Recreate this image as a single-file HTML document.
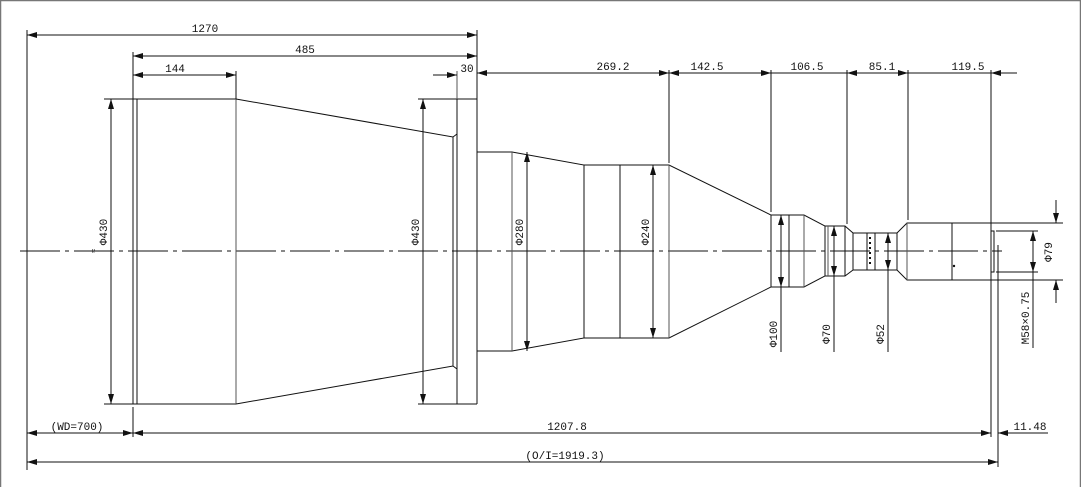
<!DOCTYPE html>
<html><head><meta charset="utf-8"><style>
html,body{margin:0;padding:0;background:#fff}
svg{display:block}
text{font-family:"Liberation Mono","DejaVu Sans Mono",monospace;font-size:11px;fill:#111}
</style></head><body>
<svg width="1081" height="487" viewBox="0 0 1081 487" xmlns="http://www.w3.org/2000/svg">
<defs>
<marker id="a" viewBox="0 0 10 6" refX="10" refY="3" markerWidth="10" markerHeight="6" markerUnits="userSpaceOnUse" orient="auto-start-reverse"><path d="M0,0 L10,3 L0,6z" fill="#111"/></marker>
</defs>
<rect x="0.5" y="0.5" width="1080" height="490" fill="none" stroke="#777" stroke-width="1.5"/>
<g stroke="#111" stroke-width="1" fill="none">
<!-- centre line -->
<line x1="20" y1="251" x2="1002" y2="251" stroke-dasharray="40,5,4,5"/>
<!-- left extension -->
<line x1="27" y1="30" x2="27" y2="470"/>
<!-- left body -->
<line x1="104" y1="99" x2="236" y2="99"/>
<line x1="104" y1="404" x2="236" y2="404"/>
<rect x="133" y="99" width="4" height="305"/>
<line x1="236" y1="99" x2="236" y2="404" stroke="#555"/>
<polyline points="236,99 453,137 457,134"/>
<polyline points="236,404 453,366 457,369"/>
<line x1="453" y1="137" x2="453" y2="366"/>
<line x1="418" y1="99" x2="477" y2="99"/>
<line x1="418" y1="404" x2="477" y2="404"/>
<line x1="457" y1="99" x2="457" y2="404"/>
<line x1="477" y1="99" x2="477" y2="404"/>
<!-- 280 section -->
<polyline points="477,152 512,152 584,165 584,338 512,351 477,351"/>
<line x1="512" y1="152" x2="512" y2="351" stroke="#555"/>
<line x1="620" y1="165" x2="620" y2="338"/>
<polyline points="584,165 669,165 771,215 771,287 669,338 584,338"/>
<line x1="669" y1="165" x2="669" y2="338" stroke="#555"/>
<!-- small sections -->
<polyline points="771,215 804,215 825,226 825,276 804,287 771,287"/>
<line x1="789" y1="215" x2="789" y2="287"/>
<line x1="804" y1="215" x2="804" y2="287" stroke="#555"/>
<polyline points="825,226 845,226 853,233 853,270 845,276 825,276"/>
<line x1="828" y1="226" x2="828" y2="276" stroke="#555"/>
<line x1="845" y1="226" x2="845" y2="276"/>
<polyline points="853,233 897,233 907,223 991,223 991,280 907,280 897,270 853,270"/>
<line x1="867" y1="233" x2="867" y2="270"/>
<line x1="875" y1="233" x2="875" y2="270"/>
<line x1="897" y1="233" x2="897" y2="270"/>
<line x1="907" y1="223" x2="907" y2="280" stroke="#555"/>
<line x1="952" y1="223" x2="952" y2="280"/>
<rect x="991" y="231" width="3" height="41"/>
<!-- extension lines top -->
<line x1="133" y1="52" x2="133" y2="99"/>
<line x1="236" y1="71" x2="236" y2="99"/>
<line x1="457" y1="71" x2="457" y2="99" stroke="#555"/>
<line x1="477" y1="30" x2="477" y2="99"/>
<line x1="669" y1="70" x2="669" y2="163"/>
<line x1="771" y1="70" x2="771" y2="212"/>
<line x1="847" y1="70" x2="847" y2="224"/>
<line x1="908" y1="70" x2="908" y2="220"/>
<line x1="991" y1="70" x2="991" y2="437"/>
<line x1="998" y1="245" x2="998" y2="467"/>
<line x1="133" y1="407" x2="133" y2="437"/>
<!-- dims top -->
<line x1="27" y1="35" x2="477" y2="35" marker-start="url(#a)" marker-end="url(#a)"/>
<line x1="133" y1="56" x2="477" y2="56" marker-start="url(#a)" marker-end="url(#a)"/>
<line x1="133" y1="75" x2="236" y2="75" marker-start="url(#a)" marker-end="url(#a)"/>
<line x1="433" y1="75" x2="457" y2="75" marker-end="url(#a)"/>
<line x1="1017" y1="73" x2="477" y2="73" marker-end="url(#a)"/>
<line x1="477" y1="73" x2="669" y2="73" marker-end="url(#a)"/>
<line x1="669" y1="73" x2="771" y2="73" marker-start="url(#a)" marker-end="url(#a)"/>
<line x1="847" y1="73" x2="908" y2="73" marker-start="url(#a)" marker-end="url(#a)"/>
<line x1="991" y1="73" x2="1003" y2="73" marker-start="url(#a)"/>
<!-- diameter dims -->
<line x1="111" y1="99" x2="111" y2="404" marker-start="url(#a)" marker-end="url(#a)"/>
<line x1="423" y1="99" x2="423" y2="404" marker-start="url(#a)" marker-end="url(#a)"/>
<line x1="527" y1="152" x2="527" y2="351" marker-start="url(#a)" marker-end="url(#a)"/>
<line x1="653" y1="165" x2="653" y2="338" marker-start="url(#a)" marker-end="url(#a)"/>
<line x1="781" y1="215" x2="781" y2="287" marker-start="url(#a)" marker-end="url(#a)"/>
<line x1="781" y1="287" x2="781" y2="352"/>
<line x1="834" y1="226" x2="834" y2="276" marker-start="url(#a)" marker-end="url(#a)"/>
<line x1="834" y1="276" x2="834" y2="352"/>
<line x1="888" y1="233" x2="888" y2="270" marker-start="url(#a)" marker-end="url(#a)"/>
<line x1="888" y1="270" x2="888" y2="352"/>
<line x1="991" y1="223" x2="1063" y2="223"/>
<line x1="991" y1="280" x2="1063" y2="280"/>
<line x1="1056" y1="200" x2="1056" y2="223" marker-end="url(#a)"/>
<line x1="1056" y1="303" x2="1056" y2="280" marker-end="url(#a)"/>
<line x1="996" y1="231" x2="1038" y2="231"/>
<line x1="996" y1="272" x2="1038" y2="272"/>
<line x1="1033" y1="231" x2="1033" y2="272" marker-start="url(#a)" marker-end="url(#a)"/>
<line x1="1033" y1="272" x2="1033" y2="348"/>
<!-- bottom dims -->
<line x1="27" y1="433" x2="133" y2="433" marker-start="url(#a)" marker-end="url(#a)"/>
<line x1="133" y1="433" x2="991" y2="433" marker-start="url(#a)" marker-end="url(#a)"/>
<line x1="1048" y1="433" x2="998" y2="433" marker-end="url(#a)"/>
<line x1="27" y1="462" x2="998" y2="462" marker-start="url(#a)" marker-end="url(#a)"/>
</g>
<g fill="#111">
<circle cx="954" cy="266" r="1.2"/>
<rect x="869" y="237" width="2" height="2"/><rect x="869" y="242" width="2" height="2"/><rect x="869" y="247" width="2" height="2"/><rect x="869" y="252" width="2" height="2"/><rect x="869" y="257" width="2" height="2"/><rect x="869" y="262" width="2" height="2"/>
</g>
<g text-anchor="middle">
<text x="205" y="32">1270</text>
<text x="305" y="53">485</text>
<text x="175" y="72">144</text>
<text x="467" y="72">30</text>
<text x="613" y="70">269.2</text>
<text x="707" y="70">142.5</text>
<text x="807" y="70">106.5</text>
<text x="882" y="70">85.1</text>
<text x="968" y="70">119.5</text>
<text x="77" y="430">(WD=700)</text>
<text x="567" y="430">1207.8</text>
<text x="1030" y="430">11.48</text>
<text x="565" y="459">(O/I=1919.3)</text>
<text transform="translate(107,232) rotate(-90)">Φ430</text>
<text transform="translate(419,232) rotate(-90)">Φ430</text>
<text transform="translate(523,232) rotate(-90)">Φ280</text>
<text transform="translate(649,232) rotate(-90)">Φ240</text>
<text transform="translate(777,334) rotate(-90)">Φ100</text>
<text transform="translate(830,334) rotate(-90)">Φ70</text>
<text transform="translate(884,334) rotate(-90)">Φ52</text>
<text transform="translate(1052,252) rotate(-90)">Φ79</text>
<text transform="translate(1029,318) rotate(-90)">M58×0.75</text>
<text transform="translate(96,251) rotate(-90)" style="font-size:8px">≈</text>
</g>
</svg>
</body></html>
